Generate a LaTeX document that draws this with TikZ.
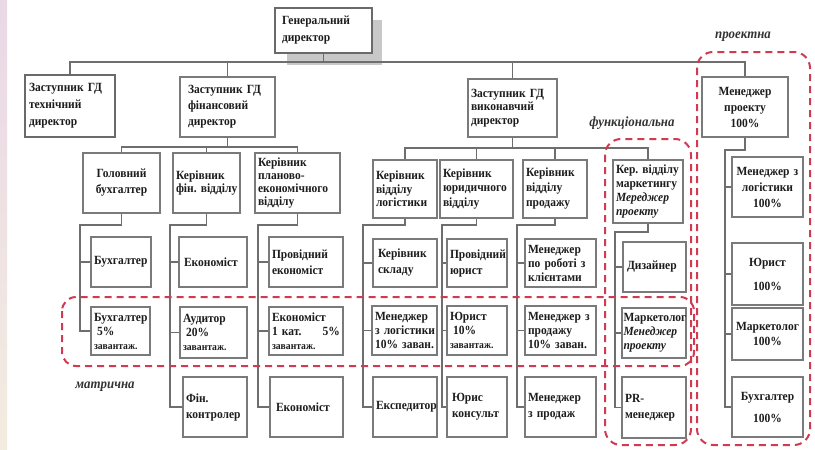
\documentclass[tikz,border=0pt]{standalone}
\usepackage{fontspec}
\setmainfont{Liberation Serif}[FakeStretch=0.92]
\definecolor{boxline}{HTML}{7A7A7A}
\definecolor{gdline}{HTML}{6A6A6A}
\definecolor{wirecol}{HTML}{6E6E6E}
\definecolor{zonecol}{HTML}{D23A52}
\definecolor{shadowgray}{HTML}{C8C8C8}
\definecolor{ink}{HTML}{1C1C1C}
\definecolor{stripA}{HTML}{E9D8E6}
\definecolor{stripB}{HTML}{E3EDF1}
\definecolor{stripC}{HTML}{F3ECE0}
\newcommand\bxfont{\fontsize{12.5}{14}\selectfont\bfseries}
\newcommand\bxfontsp[1]{\fontsize{12.5}{#1}\selectfont\bfseries}
\newcommand\smallload[1]{{\fontsize{10.5}{12}\selectfont #1}}
\tikzset{
  bx/.style 2 args={draw=boxline, line width=1.3pt, fill=white,
    minimum width=#1, minimum height=#2, text width=#1-6pt,
    inner xsep=3pt, inner ysep=0pt, align=left, font=\bxfont, text=ink},
  wire/.style={draw=wirecol, line width=1.2pt},
  zone/.style={draw=zonecol, line width=2pt, dash pattern=on 7pt off 5pt,
    rounded corners=14pt},
  zlabel/.style={font=\fontsize{14}{16}\selectfont\bfseries\itshape, text=ink!90},
}
\begin{document}
\begin{tikzpicture}[x=1pt,y=-1pt]
\useasboundingbox (0,0) rectangle (815,450);
\fill[white] (0,0) rectangle (815,450);
% tinted strip on the left edge
\shade[top color=stripA, middle color=stripB, bottom color=stripC] (0,0) rectangle (7,450);

% shadow of the top box
\fill[shadowgray] (287,20) rectangle (382,65);

% ---- boxes ----
\node[bx={97pt}{45pt}, line width=2.6pt, draw=gdline, inner xsep=7pt, text width=83pt,
      font=\bxfontsp{17}] (gd) at (323.5,30.5) {Генеральний\\директор};

\node[bx={90pt}{62pt}, line width=2pt, draw=gdline, inner xsep=4pt, text width=82pt,
      font=\bxfontsp{17}] (tech) at (70,106) {Заступник~ГД\\технічний\\директор};
\node[bx={95pt}{60pt}, inner xsep=8pt, text width=79pt, font=\bxfontsp{16}]
      (fin) at (227.5,107) {Заступник~ГД\\фінансовий\\директор};
\node[bx={89pt}{58pt}, font=\bxfontsp{13.5}] (exec) at (512.5,108) {Заступник~ГД\\виконавчий\\директор};
\node[bx={86pt}{60pt}, align=center, font=\bxfontsp{16}] (pm) at (745,107) {Менеджер\\проекту\\100\%};

% finance department
\node[bx={77pt}{60pt}, align=center, font=\bxfontsp{16}] (gb) at (121.5,183) {Головний\\бухгалтер};
\node[bx={67pt}{60pt}, font=\bxfontsp{12.5}] (kf) at (206.5,183) {Керівник\\фін.~відділу\\[9pt]};
\node[bx={85pt}{60pt}, font=\bxfontsp{13}] (kp) at (297.5,183) {Керівник\\планово-\\економічного\\відділу};

\node[bx={60pt}{50pt}] (b1) at (121,262) {Бухгалтер};
\node[bx={59pt}{48pt}] (b2) at (120.5,331) {Бухгалтер\\\hspace*{3pt}5\%\\\smallload{завантаж.}};
\node[bx={68pt}{50pt}, inner xsep=5pt, text width=58pt] (e1) at (213,262) {Економіст};
\node[bx={67pt}{51pt}] (a1) at (213.5,332.5) {Аудитор\\\hspace*{3pt}20\%\\\smallload{завантаж.}};
\node[bx={64pt}{60pt}, font=\bxfontsp{16}] (fc) at (215,407) {Фін.\\контролер\\[6pt]};
\node[bx={74pt}{50pt}, font=\bxfontsp{16}] (pe) at (306,262) {Провідний\\економіст};
\node[bx={74pt}{48pt}] (e2) at (306,331) {Економіст\\1~кат.\hfill5\%\hspace*{4pt}\\\smallload{завантаж.}};
\node[bx={73pt}{60pt}, inner xsep=6pt, text width=61pt] (e3) at (306.5,407) {Економіст};

% executive department
\node[bx={64pt}{58pt}, font=\bxfontsp{13.5}] (kl) at (405,189) {Керівник\\відділу\\логістики};
\node[bx={73pt}{58pt}, font=\bxfontsp{14.5}] (kj) at (476.5,189) {Керівник\\юридичного\\відділу};
\node[bx={64pt}{58pt}, font=\bxfontsp{15}] (ks) at (555,189) {Керівник\\відділу\\продажу};
\node[bx={70pt}{63pt}, font=\bxfontsp{14}] (km) at (648,191.5)
      {Кер.~відділу\\маркетингу\\\textit{Мереджер}\\\textit{проекту}};

\node[bx={64pt}{48pt}, inner xsep=5pt, text width=54pt, font=\bxfontsp{16}] (ksk) at (405,263) {Керівник\\складу};
\node[bx={65pt}{49pt}] (ml) at (404.5,330.5) {Менеджер\\з~логістики\\10\%~заван.};
\node[bx={64pt}{60pt}] (ex) at (405,407) {Експедитор};
\node[bx={60pt}{48pt}, font=\bxfontsp{16}] (pj) at (477,263) {Провідний\\юрист};
\node[bx={60pt}{49pt}] (j1) at (477,330.5) {Юрист\\\hspace*{3pt}10\%\\\smallload{завантаж.}};
\node[bx={60pt}{60pt}, inner xsep=5pt, text width=50pt, font=\bxfontsp{16}] (jk) at (477,407) {Юрис\\консульт};
\node[bx={71pt}{48pt}] (mk) at (560.5,263) {Менеджер\\по~роботі~з\\клієнтами};
\node[bx={71pt}{49pt}] (mp) at (560.5,330.5) {Менеджер~з\\продажу\\10\%~заван.};
\node[bx={71pt}{60pt}, font=\bxfontsp{16}] (mz) at (560.5,407) {Менеджер\\з~продаж};
\node[bx={63pt}{50pt}, inner xsep=4pt, text width=55pt] (ds) at (654.5,267) {Дизайнер};
\node[bx={64pt}{50pt}, inner xsep=1.5pt, text width=61pt] (mm) at (654,333)
      {Маркетолог\\\textit{Менеджер}\\\textit{проекту}};
\node[bx={64pt}{61pt}, font=\bxfontsp{16}] (pr) at (654,407.5) {PR-\\менеджер};

% project team
\node[bx={71pt}{60pt}, align=center, font=\bxfontsp{16}] (p1) at (767.5,187) {Менеджер~з\\логістики\\100\%};
\node[bx={71pt}{62pt}, align=center] (p2) at (767.5,274) {Юрист\\[10pt]100\%};
\node[bx={71pt}{52pt}, align=center, font=\bxfontsp{15}] (p3) at (767.5,334) {Маркетолог\\100\%};
\node[bx={71pt}{60pt}, align=center] (p4) at (767.5,407) {Бухгалтер\\[8pt]100\%};

% ---- connectors ----
\coordinate (bus) at (0,62);
\draw[wire] (tech.north) -- (tech.north |- bus) -- (pm.north |- bus) -- (pm.north);
\draw[wire] (gd.south) -- (gd.south |- bus);
\draw[wire] (fin.north) -- (fin.north |- bus);
\draw[wire] (exec.north) -- (exec.north |- bus);

\coordinate (fbus) at (0,147);
\draw[wire] (fin.south) -- (fin.south |- fbus);
\draw[wire] (gb.north) -- (gb.north |- fbus) -- (kp.north |- fbus) -- (kp.north);
\draw[wire] (kf.north) -- (kf.north |- fbus);

\coordinate (ebus) at (0,148);
\draw[wire] (exec.south) -- (exec.south |- ebus);
\draw[wire] (kl.north) -- (kl.north |- ebus) -- (km.north |- ebus) -- (km.north);
\draw[wire] (kj.north) -- (kj.north |- ebus);
\draw[wire] (ks.north) -- (ks.north |- ebus);

% subordinate spines
\coordinate (sgb) at (80,225);
\draw[wire] (gb.south) |- (sgb) -- (sgb |- b2.west) -- (b2.west);
\draw[wire] (sgb |- b1.west) -- (b1.west);

\coordinate (skf) at (170,225);
\draw[wire] (kf.south) |- (skf) -- (skf |- fc.west) -- (fc.west);
\draw[wire] (skf |- e1.west) -- (e1.west);
\draw[wire] (skf |- a1.west) -- (a1.west);

\coordinate (skp) at (258,225);
\draw[wire] (kp.south) |- (skp) -- (skp |- e3.west) -- (e3.west);
\draw[wire] (skp |- pe.west) -- (pe.west);
\draw[wire] (skp |- e2.west) -- (e2.west);

\coordinate (skl) at (363,225);
\draw[wire] (kl.south) |- (skl) -- (skl |- ex.west) -- (ex.west);
\draw[wire] (skl |- ksk.west) -- (ksk.west);
\draw[wire] (skl |- ml.west) -- (ml.west);

\coordinate (skj) at (442,225);
\draw[wire] (kj.south) |- (skj) -- (skj |- jk.west) -- (jk.west);
\draw[wire] (skj |- pj.west) -- (pj.west);
\draw[wire] (skj |- j1.west) -- (j1.west);

\coordinate (sks) at (517,225);
\draw[wire] (ks.south) |- (sks) -- (sks |- mz.west) -- (mz.west);
\draw[wire] (sks |- mk.west) -- (mk.west);
\draw[wire] (sks |- mp.west) -- (mp.west);

\coordinate (skm) at (615,232);
\draw[wire] (km.south) |- (skm) -- (skm |- pr.west) -- (pr.west);
\draw[wire] (skm |- ds.west) -- (ds.west);
\draw[wire] (skm |- mm.west) -- (mm.west);

\coordinate (spm) at (725,150);
\draw[wire] (pm.south) |- (spm) -- (spm |- p4.west) -- (p4.west);
\draw[wire] (spm |- p1.west) -- (p1.west);
\draw[wire] (spm |- p2.west) -- (p2.west);
\draw[wire] (spm |- p3.west) -- (p3.west);

% ---- structure zones ----
\draw[zone] (62,297) rectangle (694,366);
\draw[zone, rounded corners=16pt] (605,139) rectangle (691,445);
\draw[zone, rounded corners=16pt] (697,52) rectangle (810,445);
\node[zlabel] (lbm) at (105,387) {матрична};
\node[zlabel] (lbf) at (632,123) {функціональна};
\node[zlabel] (lbp) at (743,37) {проектна};
\end{tikzpicture}
\end{document}
